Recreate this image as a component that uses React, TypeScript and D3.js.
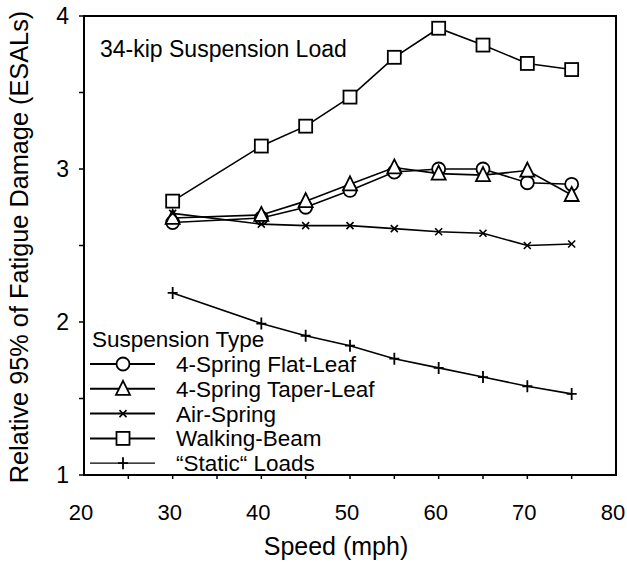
import React from "react";
import * as d3 from "d3";

const speeds = [30, 40, 45, 50, 55, 60, 65, 70, 75];
const flatLeaf = [2.65, 2.68, 2.75, 2.86, 2.98, 3.0, 3.0, 2.91, 2.9];
const taperLeaf = [2.68, 2.7, 2.79, 2.9, 3.01, 2.97, 2.96, 2.99, 2.83];
const airSpring = [2.71, 2.64, 2.63, 2.63, 2.61, 2.59, 2.58, 2.5, 2.51];
const walkingBeam = [2.79, 3.15, 3.28, 3.47, 3.73, 3.92, 3.81, 3.69, 3.65];
const staticLoads = [2.19, 1.99, 1.91, 1.845, 1.76, 1.7, 1.64, 1.58, 1.53];

const seriesNames = ["4-Spring Flat-Leaf", "4-Spring Taper-Leaf", "Air-Spring", "Walking-Beam", "\u201cStatic\u201c Loads"];
const seriesMarkers = ["circle", "triangle", "x", "square", "plus"];
const seriesValues = [flatLeaf, taperLeaf, airSpring, walkingBeam, staticLoads];

const xTickLabels = [20, 30, 40, 50, 60, 70, 80];
const yTickLabels = [1, 2, 3, 4];

const W = 627;
const H = 564;
const m = { top: 16, right: 11, bottom: 89, left: 84 };
const font = "'Liberation Sans', Arial, Helvetica, sans-serif";

const x = d3.scaleLinear().domain([20, 80]).range([m.left, W - m.right]);
const y = d3.scaleLinear().domain([1, 4]).range([H - m.bottom, m.top]);

const Marker = ({ type, cx, cy }: { type: string; cx: number; cy: number }) => {
  const s = { fill: "white", stroke: "black", strokeWidth: 1.8 };
  if (type === "circle") return <circle cx={cx} cy={cy} r={6.5} {...s} />;
  if (type === "square") return <rect x={cx - 6.5} y={cy - 6.5} width={13} height={13} {...s} />;
  if (type === "triangle")
    return <path d={`M${cx},${cy - 8}L${cx + 7},${cy + 6}L${cx - 7},${cy + 6}Z`} {...s} />;
  if (type === "x")
    return <path d={`M${cx - 3.5},${cy - 3.5}L${cx + 3.5},${cy + 3.5}M${cx - 3.5},${cy + 3.5}L${cx + 3.5},${cy - 3.5}`} stroke="black" strokeWidth={1.6} />;
  return <path d={`M${cx - 5},${cy}L${cx + 5},${cy}M${cx},${cy - 6}L${cx},${cy + 6}`} stroke="black" strokeWidth={1.8} />;
};

export default function App() {
  const line = d3
    .line<number>()
    .x((_, i) => x(speeds[i]))
    .y((d) => y(d));

  const xMinor = d3.range(25, 80, 5);
  const yMinor = d3.range(1, 4.01, 0.5);

  return (
    <svg width={W} height={H} style={{ position: "absolute", left: 0, top: 0, background: "white" }} fontFamily={font}>
      {/* frame */}
      <rect x={m.left} y={m.top} width={W - m.left - m.right} height={H - m.top - m.bottom} fill="none" stroke="black" strokeWidth={2} />

      {/* y ticks */}
      {yMinor.map((v) => (
        <line key={"yt" + v} x1={m.left - 5} x2={m.left} y1={y(v)} y2={y(v)} stroke="black" strokeWidth={1.5} />
      ))}
      {yTickLabels.map((v) => (
        <text key={"yl" + v} x={m.left - 15} y={y(v)} dy="0.36em" textAnchor="end" fontSize={23}>
          {v}
        </text>
      ))}

      {/* x ticks */}
      {xMinor.map((v) => (
        <line key={"xt" + v} x1={x(v)} x2={x(v)} y1={H - m.bottom} y2={H - m.bottom + 4} stroke="black" strokeWidth={1.5} />
      ))}
      {xTickLabels.map((v) => (
        <text key={"xl" + v} x={x(v) - 3} y={H - m.bottom + 45} textAnchor="middle" fontSize={22}>
          {v}
        </text>
      ))}

      {/* axis titles */}
      <text x={336} y={555} textAnchor="middle" fontSize={25}>
        Speed (mph)
      </text>
      <text transform={`translate(28,247) rotate(-90)`} textAnchor="middle" fontSize={25.3}>
        Relative 95% of Fatigue Damage (ESALs)
      </text>

      <text x={100} y={57} fontSize={23}>
        34-kip Suspension Load
      </text>

      {/* series */}
      {seriesValues.map((vals, k) => (
        <g key={"s" + k}>
          <path d={line(vals) || ""} fill="none" stroke="black" strokeWidth={1.6} />
          {vals.map((v, i) => (
            <Marker key={i} type={seriesMarkers[k]} cx={x(speeds[i])} cy={y(v)} />
          ))}
        </g>
      ))}

      {/* legend */}
      <g>
        <text x={92} y={347} fontSize={22.5}>
          Suspension Type
        </text>
        {seriesNames.map((name, k) => {
          const cy = 364 + k * 24.8;
          return (
            <g key={"lg" + k}>
              <line x1={90} x2={155} y1={cy} y2={cy} stroke="black" strokeWidth={k === 4 ? 1.2 : 2} />
              <Marker type={seriesMarkers[k]} cx={123} cy={cy} />
              <text x={176} y={cy + 8} fontSize={22.5}>
                {name}
              </text>
            </g>
          );
        })}
      </g>
    </svg>
  );
}
